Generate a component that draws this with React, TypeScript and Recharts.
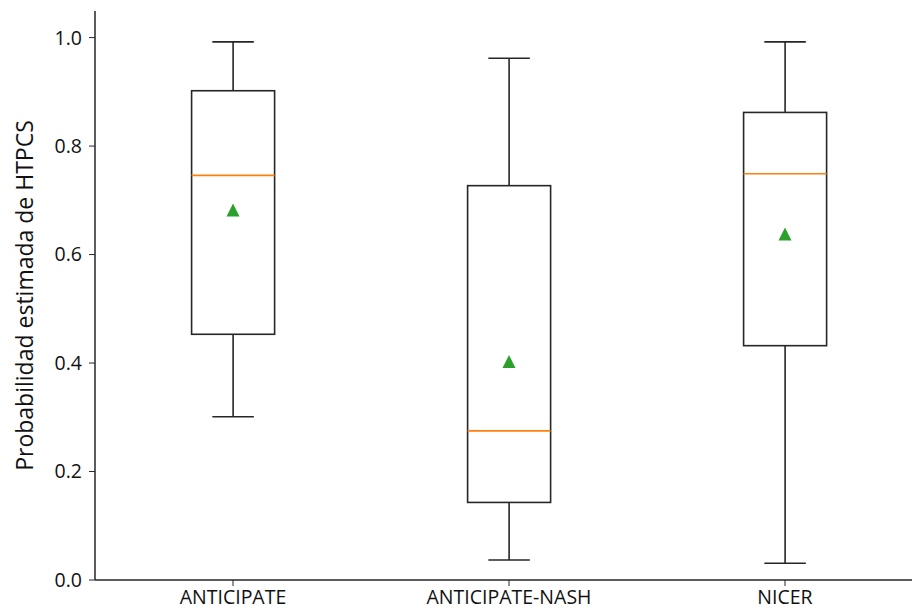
import React from 'react';
import { ComposedChart, Bar, Scatter, XAxis, YAxis } from 'recharts';

const categories = ['ANTICIPATE', 'ANTICIPATE-NASH', 'NICER'];
const whiskerLow = [0.301, 0.037, 0.031];
const q1 = [0.453, 0.143, 0.432];
const median = [0.746, 0.275, 0.749];
const q3 = [0.902, 0.727, 0.862];
const whiskerHigh = [0.992, 0.962, 0.992];
const means = [0.682, 0.403, 0.638];
const yTicks = [0, 0.2, 0.4, 0.6, 0.8, 1.0];

const data = categories.map((name, i) => ({
  name,
  lo: whiskerLow[i],
  q1: q1[i],
  med: median[i],
  q3: q3[i],
  hi: whiskerHigh[i],
  box: [q1[i], q3[i]],
  mean: means[i],
}));

const FONT = '"Open Sans", "DejaVu Sans", sans-serif';
const INK = '#262626';

// box + whiskers + median, positioned from the bar's own scaled rect
const BoxShape = (props: any) => {
  const { x, y, width, height, payload } = props;
  const top = Math.min(y, y + height);
  const h = Math.abs(height);
  const ppu = h / (payload.q3 - payload.q1);
  const toY = (v: number) => top + (payload.q3 - v) * ppu;
  const cx = x + width / 2;
  const cap = width / 4;
  return (
    <g>
      <line x1={cx} x2={cx} y1={toY(payload.hi)} y2={toY(payload.q3)} stroke={INK} strokeWidth={1.6} />
      <line x1={cx} x2={cx} y1={toY(payload.q1)} y2={toY(payload.lo)} stroke={INK} strokeWidth={1.6} />
      <line x1={cx - cap} x2={cx + cap} y1={toY(payload.hi)} y2={toY(payload.hi)} stroke={INK} strokeWidth={1.6} />
      <line x1={cx - cap} x2={cx + cap} y1={toY(payload.lo)} y2={toY(payload.lo)} stroke={INK} strokeWidth={1.6} />
      <rect x={x} y={top} width={width} height={h} fill="none" stroke={INK} strokeWidth={1.6} />
      <line x1={x} x2={x + width} y1={toY(payload.med)} y2={toY(payload.med)} stroke="#ff7f0e" strokeWidth={1.6} />
    </g>
  );
};

const Triangle = (props: any) => {
  const { cx, cy } = props;
  const r = 6.5;
  return (
    <polygon
      points={`${cx},${cy - r} ${cx - r},${cy + r} ${cx + r},${cy + r}`}
      fill="#2ca02c"
    />
  );
};

export default function App() {
  return (
    <div style={{ position: 'fixed', left: 0, top: 0, width: 912, height: 612, overflow: 'hidden', background: '#fff' }}>
      <ComposedChart
        width={930}
        height={612}
        data={data}
        margin={{ top: 11, right: 7, bottom: 0, left: 0 }}
        barCategoryGap="35%"
        style={{ fontFamily: FONT }}
      >
        <XAxis
          dataKey="name"
          height={32}
          tick={{ fill: '#111', fontSize: 19.5 }}
          tickSize={6}
          tickMargin={4}
          tickLine={{ stroke: INK }}
          axisLine={{ stroke: INK, strokeWidth: 1.5 }}
        />
        <XAxis xAxisId="top" orientation="top" height={0} tick={false} tickLine={false} axisLine={{ stroke: INK, strokeWidth: 1.5 }} />
        <YAxis
          domain={[0, 1.049]}
          ticks={yTicks}
          allowDataOverflow
          width={95}
          tickFormatter={(v: number) => v.toFixed(1)}
          tick={{ fill: '#111', fontSize: 19.5 }}
          tickSize={6}
          tickMargin={7}
          tickLine={{ stroke: INK }}
          axisLine={{ stroke: INK, strokeWidth: 1.5 }}
          label={{ value: 'Probabilidad estimada de HTPCS', angle: -90, position: 'center', dx: -23, fill: '#111', fontSize: 23 }}
        />
        <Bar dataKey="box" shape={<BoxShape />} isAnimationActive={false} />
        <Scatter dataKey="mean" shape={<Triangle />} isAnimationActive={false} />
      </ComposedChart>
    </div>
  );
}
